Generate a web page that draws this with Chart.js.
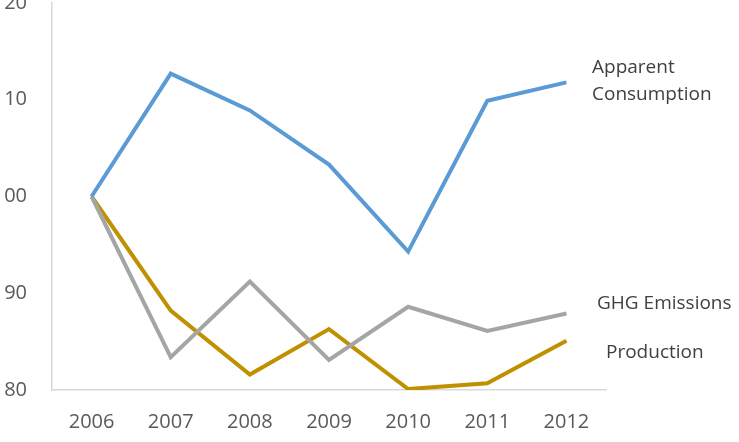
<!DOCTYPE html>
<html>
<head>
<meta charset="utf-8">
<script src="https://cdn.jsdelivr.net/npm/chart.js@4"></script>
<style>
  html, body { margin: 0; padding: 0; background: #fff; overflow: hidden; }
  #frame { position: relative; width: 739px; height: 442px; overflow: hidden; }
  #wrap { position: absolute; left: 0; top: -26px; width: 739px; height: 468px; }
</style>
</head>
<body>
<div id="frame"><div id="wrap"><canvas id="trendChart"></canvas></div></div>
<script>
const years = ['2006', '2007', '2008', '2009', '2010', '2011', '2012'];
const consumption = [100, 112.7, 108.9, 103.3, 94.3, 109.9, 111.8];
const emissions = [100, 83.4, 91.2, 83.1, 88.6, 86.1, 87.9];
const production = [100, 88.2, 81.6, 86.3, 80.1, 80.7, 85.1];
const yTicks = [80, 90, 100, 110, 120];

// end-of-line labels, placed next to the last point of each series
const endLabels = {
  id: 'endLabels',
  afterDatasetsDraw(chart) {
    const ctx = chart.ctx;
    const area = chart.chartArea;
    ctx.save();
    ctx.font = '19px "Open Sans"';
    ctx.fillStyle = '#404040';
    ctx.textBaseline = 'middle';
    ctx.textAlign = 'left';
    chart.data.datasets.forEach(ds => {
      const y = chart.scales.y.getPixelForValue(ds.data[ds.data.length - 1]);
      ds.endLabel.forEach((line, i) => {
        ctx.fillText(line, area.right + ds.labelDx, y + ds.labelDy + i * 27);
      });
    });
    ctx.restore();
  }
};

new Chart(document.getElementById('trendChart').getContext('2d'), {
  type: 'line',
  data: {
    labels: years,
    datasets: [
      { label: 'Apparent Consumption', data: consumption, borderColor: '#5B9BD5',
        endLabel: ['Apparent', 'Consumption'], labelDx: -14, labelDy: -15 },
      { label: 'GHG Emissions', data: emissions, borderColor: '#A5A5A5',
        endLabel: ['GHG Emissions'], labelDx: -9, labelDy: -10 },
      { label: 'Production', data: production, borderColor: '#BF9000',
        endLabel: ['Production'], labelDx: 0, labelDy: 12 }
    ]
  },
  options: {
    responsive: true,
    maintainAspectRatio: false,
    animation: false,
    layout: { padding: { top: -31, right: 133, left: 0, bottom: 0 } },
    elements: {
      line: { borderWidth: 4, tension: 0, borderCapStyle: 'butt', borderJoinStyle: 'miter' },
      point: { radius: 0 }
    },
    plugins: {
      legend: { display: false },
      tooltip: { enabled: false }
    },
    scales: {
      x: {
        offset: true,
        grid: { display: false },
        border: { color: '#D9D9D9', width: 1.5 },
        ticks: { color: '#595959', font: { family: 'Open Sans', size: 20 }, padding: 12 },
        afterFit(scale) { scale.height = 52; }
      },
      y: {
        min: 80,
        max: 120,
        afterBuildTicks(scale) { scale.ticks = yTicks.map(v => ({ value: v })); },
        grid: { display: false },
        border: { color: '#D9D9D9', width: 1.5 },
        ticks: { color: '#595959', font: { family: 'Open Sans', size: 20 }, padding: 17 },
        afterFit(scale) { scale.width = 52; }
      }
    }
  },
  plugins: [endLabels]
});
</script>
</body>
</html>
